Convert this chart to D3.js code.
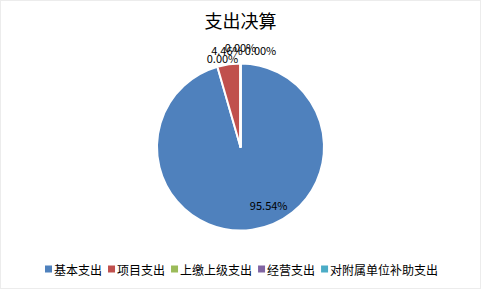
<!DOCTYPE html>
<html>
<head>
<meta charset="utf-8">
<script src="https://cdn.jsdelivr.net/npm/d3@7.9.0/dist/d3.min.js"></script>
<style>
  html, body { margin: 0; padding: 0; background: #fff; }
  svg { display: block; }
  text { font-family: "Noto Sans CJK SC", "Noto Sans", sans-serif; }
</style>
</head>
<body>
<svg id="chart" width="482" height="290"></svg>
<script>
// chart data
const title = '支出决算';
const categories = ['基本支出', '项目支出', '上缴上级支出', '经营支出', '对附属单位补助支出'];
const values = [95.54, 4.46, 0, 0, 0];
const colors = ['#4F81BD', '#C0504D', '#9BBB59', '#8064A2', '#4BACC6'];

const width = 482, height = 290;
const cx = 240.5, cy = 147, radius = 83.5;

const svg = d3.select('#chart');

// faint outer frame
svg.append('rect')
  .attr('x', 0.5).attr('y', 0.5)
  .attr('width', width - 2).attr('height', height - 2)
  .attr('fill', 'none')
  .attr('stroke', '#ececec');

// title
svg.append('text')
  .attr('x', cx)
  .attr('y', 28)
  .attr('text-anchor', 'middle')
  .attr('font-size', 18)
  .attr('fill', '#000')
  .text(title);

// pie
const pieData = categories.map((c, i) => ({ label: c, value: values[i], color: colors[i] }));
const arcs = d3.pie().sort(null).value(d => d.value)(pieData);
const arcGen = d3.arc().innerRadius(0).outerRadius(radius);

const g = svg.append('g').attr('transform', `translate(${cx},${cy})`);

g.selectAll('path')
  .data(arcs)
  .join('path')
  .attr('d', arcGen)
  .attr('fill', d => d.data.color)
  .attr('stroke', '#fff')
  .attr('stroke-width', 2)
  .attr('stroke-linejoin', 'round');

// labels: inside for the big slice, outside for the rest (nudged like Excel does)
const labelArc = d3.arc().innerRadius(radius + 14).outerRadius(radius + 14);
const insideArc = d3.arc().innerRadius(radius * 0.7).outerRadius(radius * 0.7);
const nudges = [[20, 0], [0, 0], [-18, 8], [0, -3], [20, 0]];

g.selectAll('text.lbl')
  .data(arcs)
  .join('text')
  .attr('class', 'lbl')
  .attr('transform', (d, i) => {
    const [x, y] = i === 0 ? insideArc.centroid(d) : labelArc.centroid(d);
    return `translate(${x + nudges[i][0]},${y + nudges[i][1]})`;
  })
  .attr('text-anchor', 'middle')
  .attr('dominant-baseline', 'central')
  .attr('font-size', 11)
  .attr('fill', '#000')
  .text(d => d.data.value.toFixed(2) + '%');

// legend
const legend = svg.append('g').attr('transform', 'translate(45,269)');
let xPos = 0;
pieData.forEach(d => {
  const item = legend.append('g').attr('transform', `translate(${xPos},0)`);
  item.append('rect')
    .attr('x', 0).attr('y', -3.5)
    .attr('width', 7).attr('height', 7)
    .attr('fill', d.color);
  const t = item.append('text')
    .attr('x', 9)
    .attr('y', 0)
    .attr('dominant-baseline', 'central')
    .attr('font-size', 12)
    .attr('fill', '#000')
    .text(d.label);
  xPos += 9 + t.node().getComputedTextLength() + 6;
});
</script>
</body>
</html>
